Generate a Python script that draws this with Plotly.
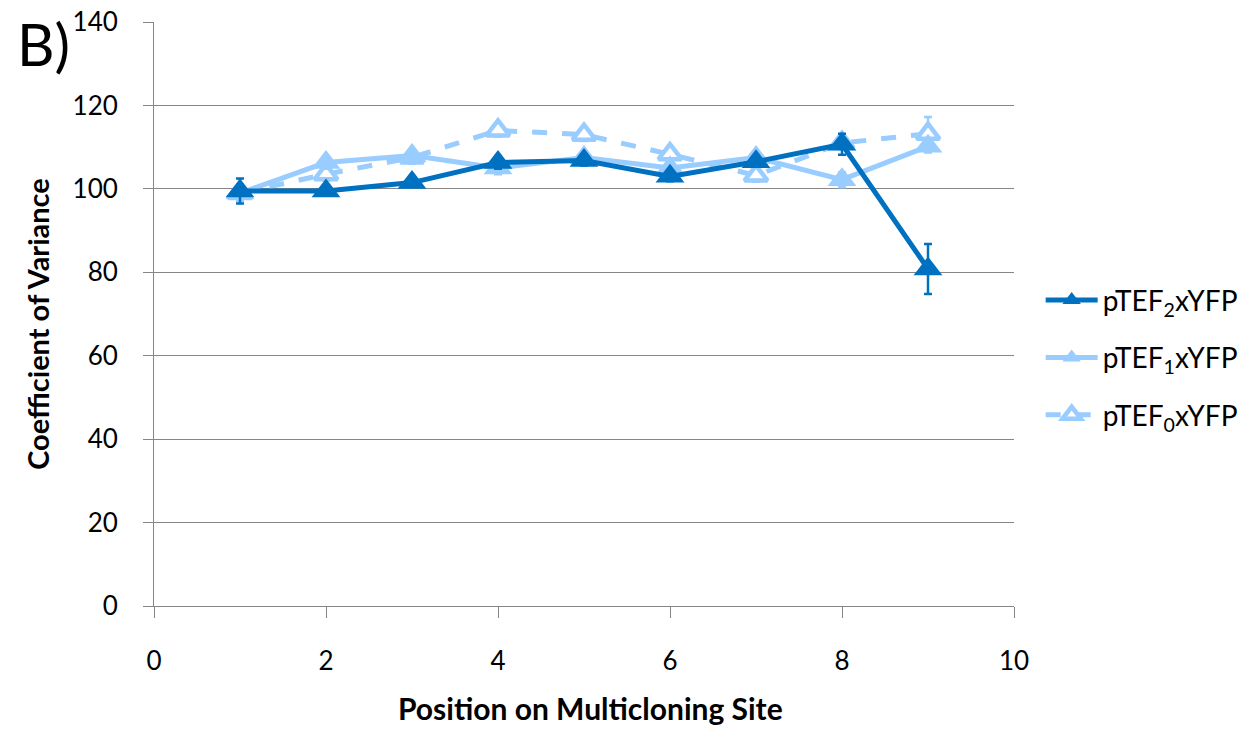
import plotly.graph_objects as go

positions = [1, 2, 3, 4, 5, 6, 7, 8, 9]

ptef2_cv = [99.5, 99.5, 101.5, 106.3, 106.8, 103.0, 106.5, 110.7, 80.8]
ptef2_err = [3.0, 1.0, 1.0, 1.5, 1.2, 1.2, 1.2, 2.5, 6.0]

ptef1_cv = [99.0, 106.3, 108.0, 105.0, 107.5, 105.0, 107.5, 102.2, 110.2]
ptef1_err = [2.0, 1.5, 1.5, 1.5, 1.2, 1.5, 1.5, 1.8, 1.5]

ptef0_cv = [99.0, 103.5, 107.5, 114.0, 113.0, 108.3, 103.2, 111.0, 113.2]
ptef0_err = [1.5, 1.5, 1.5, 1.5, 1.5, 1.5, 1.5, 1.5, 4.0]

dark_blue = "#0070C0"
light_blue = "#99CCFF"
axis_grey = "#868686"
font_family = "Lato, 'Open Sans', sans-serif"

fig = go.Figure()

# drawn first so the darker series sits on top
fig.add_trace(go.Scatter(
    x=positions, y=ptef0_cv, name="pTEF<sub>0</sub>xYFP", legendgroup="g0",
    legendrank=3,
    mode="lines+markers",
    line=dict(color=light_blue, width=5, dash="dash"),
    marker=dict(symbol="triangle-up", size=20, color="white",
                line=dict(color=light_blue, width=4.5)),
    error_y=dict(type="data", array=ptef0_err, color=light_blue, thickness=2.5, width=4),
))

fig.add_trace(go.Scatter(
    x=positions, y=ptef1_cv, name="pTEF<sub>1</sub>xYFP", legendgroup="g1",
    legendrank=2,
    mode="lines+markers",
    line=dict(color=light_blue, width=5),
    marker=dict(symbol="triangle-up", size=25, color=light_blue),
    error_y=dict(type="data", array=ptef1_err, color=light_blue, thickness=2.5, width=4),
))

fig.add_trace(go.Scatter(
    x=positions, y=ptef2_cv, name="pTEF<sub>2</sub>xYFP", legendgroup="g2",
    legendrank=1,
    mode="lines+markers",
    line=dict(color=dark_blue, width=5),
    marker=dict(symbol="triangle-up", size=25, color=dark_blue),
    error_y=dict(type="data", array=ptef2_err, color=dark_blue, thickness=2.5, width=4),
))

fig.update_layout(
    width=1260, height=732,
    margin=dict(l=154, r=246, t=22, b=126, autoexpand=False),
    paper_bgcolor="white", plot_bgcolor="white",
    font=dict(family=font_family, size=26, color="black"),
    showlegend=True,
    legend=dict(
        x=1.031, y=0.425, xanchor="left", yanchor="middle",
        font=dict(size=28, family=font_family),
        itemwidth=52, tracegroupgap=18,
        bgcolor="rgba(0,0,0,0)",
    ),
    xaxis=dict(
        range=[0, 10], tick0=0, dtick=2, automargin=False,
        showgrid=False, zeroline=False,
        showline=True, linecolor=axis_grey, linewidth=1,
        ticks="outside", ticklen=11, tickcolor=axis_grey,
        ticklabelstandoff=21,
        tickfont=dict(size=26),
    ),
    yaxis=dict(
        range=[0, 140], tick0=0, dtick=20, automargin=False,
        showgrid=True, gridcolor=axis_grey, gridwidth=1,
        zeroline=False,
        showline=True, linecolor=axis_grey, linewidth=1,
        ticks="outside", ticklen=10, tickcolor=axis_grey,
        ticklabelstandoff=20,
        tickfont=dict(size=26),
    ),
)

# axis titles
fig.add_annotation(
    text="<b>Position on Multicloning Site</b>", xref="paper", yref="paper",
    x=0.508, y=-0.175, xanchor="center", yanchor="middle", showarrow=False,
    font=dict(size=30, family=font_family, color="black"),
)
fig.add_annotation(
    text="<b>Coefficient of Variance</b>", xref="paper", yref="paper",
    x=-0.135, y=0.483, xanchor="center", yanchor="middle", showarrow=False,
    textangle=-90,
    font=dict(size=29, family=font_family, color="black"),
)

# panel label
fig.add_annotation(
    text="B)", xref="paper", yref="paper", x=-0.162, y=1.026,
    xanchor="left", yanchor="top", showarrow=False,
    font=dict(size=58, family=font_family, color="black"),
)

fig.write_html("out.html")
